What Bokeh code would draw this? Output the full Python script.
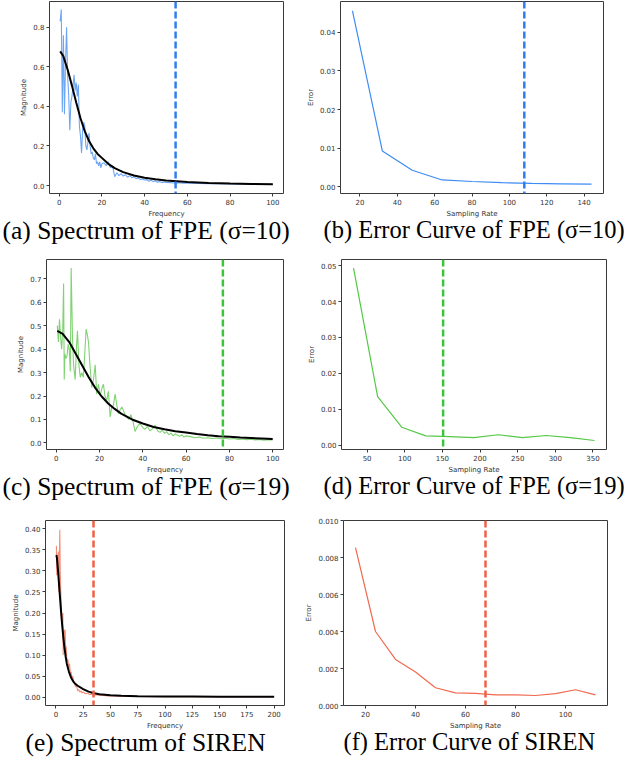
from bokeh.plotting import figure
from bokeh.layouts import column, row
from bokeh.models import Range1d, FixedTicker, Span, Title, PrintfTickFormatter
from bokeh.embed import file_html
from bokeh.resources import INLINE

# ---------------- data ----------------
# (a) Spectrum of FPE (sigma=10)
a_freq = [0.5, 1.0, 1.5, 2.0, 2.5, 3.0, 3.5, 4.0, 4.5, 5.0, 5.5, 6.0, 6.5, 7.0, 7.5, 8.0, 8.5, 9.0, 9.5, 10.0,
          10.5, 11.0, 11.5, 12.0, 12.5, 13.0, 13.5, 14.0, 14.5, 15.0, 15.5, 16.0, 16.5, 17.0, 17.5, 18.0, 18.5,
          19.0, 19.5, 20.0, 21, 22, 23, 24, 25, 26, 27, 28, 29, 30, 31, 32, 33, 34, 35, 36, 37, 38, 39, 40, 41,
          42, 43, 44, 45, 46, 47, 48, 49, 50, 52, 54, 56, 58, 60, 65, 70, 75, 80, 85, 90, 95, 100]
a_mag = [0.83, 0.89, 0.37, 0.76, 0.36, 0.62, 0.80, 0.55, 0.45, 0.28, 0.42, 0.45, 0.50, 0.56, 0.48, 0.52, 0.45,
         0.51, 0.30, 0.25, 0.165, 0.28, 0.32, 0.30, 0.20, 0.18, 0.22, 0.265, 0.20, 0.16, 0.17, 0.14, 0.13, 0.16,
         0.11, 0.12, 0.10, 0.12, 0.09, 0.11, 0.115, 0.10, 0.12, 0.09, 0.10, 0.045, 0.065, 0.05, 0.06, 0.048,
         0.055, 0.042, 0.05, 0.04, 0.045, 0.035, 0.038, 0.03, 0.033, 0.028, 0.03, 0.022, 0.027, 0.02, 0.024,
         0.017, 0.02, 0.015, 0.018, 0.016, 0.015, 0.013, 0.014, 0.012, 0.012, 0.011, 0.010, 0.009, 0.008, 0.008,
         0.007, 0.007, 0.006]
a_fit_freq = [0.5, 2, 4, 6, 8, 10, 12, 14, 16, 18, 20, 23, 26, 30, 35, 40, 45, 50, 60, 70, 80, 90, 100]
a_fit_mag = [0.678, 0.653, 0.585, 0.505, 0.42, 0.34, 0.275, 0.225, 0.188, 0.160, 0.140, 0.110, 0.088, 0.068,
             0.051, 0.040, 0.032, 0.026, 0.018, 0.013, 0.010, 0.008, 0.007]
a_cut = 54.5

# (b) Error curve of FPE (sigma=10)
b_rate = [16, 32, 48, 64, 80, 96, 112, 128, 144]
b_err = [0.0455, 0.0093, 0.0043, 0.0018, 0.0014, 0.0011, 0.0009, 0.0008, 0.0007]
b_cut = 108

# (c) Spectrum of FPE (sigma=19)
c_freq = [0.5, 1, 1.5, 2, 2.5, 3, 3.4, 3.7, 4, 4.5, 5, 5.5, 6, 6.5, 6.9, 7.5, 8, 8.75, 9.3, 9.8, 10.5, 11.1,
          11.8, 12.5, 13, 13.8, 14.4, 14.9, 15.6, 16.4, 17.2, 18, 18.7, 19.5, 20.3, 21, 21.8, 22.5, 23.3, 24.1,
          24.9, 25.6, 26.4, 27.2, 28, 28.7, 29.5, 30.3, 31, 31.8, 32.6, 33.5, 34.5, 35.5, 36.4, 37.5, 38.7, 40,
          41, 42, 43.3, 44.5, 45.6, 47, 48, 49, 50, 51, 52, 53, 54, 55, 56, 57, 58, 59, 60, 62, 64, 66, 68, 70,
          72, 74, 76, 78, 80, 82, 84, 86, 88, 90, 92, 94, 96, 98, 100]
c_mag = [0.50, 0.43, 0.527, 0.45, 0.40, 0.48, 0.68, 0.27, 0.38, 0.36, 0.37, 0.42, 0.40, 0.305, 0.746, 0.45,
         0.333, 0.27, 0.40, 0.478, 0.33, 0.28, 0.30, 0.28, 0.35, 0.485, 0.46, 0.43, 0.33, 0.236, 0.27, 0.333,
         0.208, 0.25, 0.20, 0.23, 0.25, 0.20, 0.18, 0.22, 0.111, 0.15, 0.16, 0.208, 0.16, 0.125, 0.14, 0.153,
         0.14, 0.12, 0.111, 0.10, 0.12, 0.09, 0.049, 0.07, 0.083, 0.065, 0.058, 0.07, 0.052, 0.06, 0.075, 0.05,
         0.045, 0.055, 0.04, 0.048, 0.035, 0.042, 0.03, 0.038, 0.033, 0.028, 0.035, 0.025, 0.03, 0.027, 0.022,
         0.025, 0.02, 0.022, 0.019, 0.021, 0.018, 0.02, 0.017, 0.019, 0.015, 0.017, 0.014, 0.016, 0.013, 0.015,
         0.012, 0.014, 0.013]
c_fit_freq = [0.5, 3, 6, 9, 12, 15, 18, 21, 24, 27, 30, 35, 40, 45, 50, 55, 60, 65, 70, 75, 80, 85, 90, 95, 100]
c_fit_mag = [0.478, 0.465, 0.43, 0.38, 0.33, 0.28, 0.235, 0.198, 0.168, 0.145, 0.125, 0.100, 0.083, 0.068,
             0.058, 0.050, 0.044, 0.038, 0.033, 0.029, 0.026, 0.023, 0.021, 0.019, 0.017]
c_cut = 77

# (d) Error curve of FPE (sigma=19)
d_rate = [32, 64, 96, 128, 160, 192, 224, 256, 288, 320, 352]
d_err = [0.0493, 0.0135, 0.0050, 0.0026, 0.0024, 0.0021, 0.0029, 0.0021, 0.0027, 0.0021, 0.0013]
d_cut = 151

# (e) Spectrum of SIREN
e_freq = [0.5, 0.8, 1.2, 1.6, 2.0, 2.4, 2.8, 3.2, 3.6, 4.0, 4.4, 4.8, 5.2, 5.6, 6.0, 6.4, 6.7, 7.1, 7.5, 8.0,
          8.5, 9.0, 9.5, 10, 10.5, 11, 11.5, 12, 12.5, 13, 13.5, 14, 14.5, 15, 15.5, 16, 17, 18, 19, 20, 21,
          22, 23, 24, 25, 27, 29, 31, 33, 35, 38, 41, 44, 47, 50, 55, 60, 70, 80, 100, 125, 150, 175, 200]
e_mag = [0.36, 0.29, 0.33, 0.30, 0.34, 0.346, 0.25, 0.33, 0.398, 0.30, 0.26, 0.22, 0.20, 0.19, 0.169, 0.20,
         0.10, 0.15, 0.16, 0.13, 0.16, 0.11, 0.12, 0.09, 0.085, 0.09, 0.075, 0.07, 0.08, 0.065, 0.055, 0.06,
         0.05, 0.044, 0.05, 0.04, 0.035, 0.025, 0.028, 0.015, 0.018, 0.012, 0.015, 0.010, 0.012, 0.008, 0.009,
         0.006, 0.007, 0.005, 0.005, 0.004, 0.004, 0.003, 0.003, 0.003, 0.002, 0.002, 0.0015, 0.001, 0.001,
         0.0008, 0.0008, 0.0008]
e_fit_freq = [0.5, 1, 2, 3, 4, 5, 6, 7, 8, 9, 10, 12, 14, 16, 18, 20, 25, 30, 35, 40, 50, 60, 75, 100, 125,
              150, 175, 200]
e_fit_mag = [0.338, 0.33, 0.30, 0.265, 0.23, 0.195, 0.165, 0.138, 0.115, 0.096, 0.080, 0.060, 0.046, 0.037,
             0.031, 0.027, 0.019, 0.013, 0.009, 0.007, 0.0045, 0.003, 0.002, 0.0015, 0.0012, 0.001, 0.001, 0.001]
e_cut = 34.5

# (f) Error curve of SIREN
f_rate = [16, 24, 32, 40, 48, 56, 64, 72, 80, 88, 96, 104, 112]
f_err = [0.00853, 0.0040, 0.00249, 0.00181, 0.00096, 0.00068, 0.00066, 0.00057, 0.00057, 0.00054, 0.00064,
         0.00085, 0.00057]
f_cut = 68

captions = ["(a) Spectrum of FPE (σ=10)", "(b) Error Curve of FPE (σ=10)",
            "(c) Spectrum of FPE (σ=19)", "(d) Error Curve of FPE (σ=19)",
            "(e) Spectrum of SIREN", "(f) Error Curve of SIREN"]

BLUE_N, BLUE_L, BLUE_D = "#5597f2", "#3d8cf4", "#2f7ef0"
GREEN_N, GREEN_L, GREEN_D = "#6acb5a", "#55c846", "#3dc43d"
RED_N, RED_L, RED_D = "#f37a62", "#f06a4f", "#ef6146"


def make_fig(w, h, bl, br, bt, bb, xr, yr, xticks, yticks, yfmt, xlabel, ylabel, caption, cap_off,
             cap_fs="25.5px", tick_fs="7px"):
    p = figure(width=w, height=h, output_backend="svg", toolbar_location=None,
               x_range=Range1d(*xr), y_range=Range1d(*yr),
               min_border_left=bl, min_border_right=br, min_border_top=bt, min_border_bottom=bb)
    p.background_fill_color = "white"
    p.border_fill_color = "white"
    p.outline_line_color = "#3a3a3a"
    p.outline_line_width = 1
    p.outline_line_alpha = 1
    p.grid.visible = False
    for ax, ticks, lab, fmt in ((p.xaxis, xticks, xlabel, "%d"), (p.yaxis, yticks, ylabel, yfmt)):
        ax.ticker = FixedTicker(ticks=ticks)
        ax.formatter = PrintfTickFormatter(format=fmt)
        ax.minor_tick_line_color = None
        ax.axis_line_color = None
        ax.major_tick_line_color = "#3a3a3a"
        ax.major_tick_in = 0
        ax.major_tick_out = 3
        ax.major_label_standoff = 2
        ax.major_label_text_font = "DejaVu Sans"
        ax.major_label_text_font_size = tick_fs
        ax.major_label_text_color = "#333333"
        ax.axis_label = lab
        ax.axis_label_standoff = 2
        ax.axis_label_text_font = "DejaVu Sans"
        ax.axis_label_text_font_size = "7px"
        ax.axis_label_text_font_style = "normal"
        ax.axis_label_text_color = "#333333"
    t = Title(text=caption, align="left", offset=cap_off, text_font="Liberation Serif",
              text_font_size=cap_fs, text_font_style="normal", text_color="black",
              vertical_align="top", standoff=-10)
    p.add_layout(t, "below")
    return p


LW, RW = 302, 322

pa = make_fig(LW, 246, 49, 19, 1, 53, (-4.5, 105), (-0.04, 0.93), [0, 20, 40, 60, 80, 100],
              [0, 0.2, 0.4, 0.6, 0.8], "%.1f", "Frequency", "Magnitude", captions[0], -47)
pa.line(a_freq, a_mag, line_color=BLUE_N, line_width=1.1, line_alpha=0.85)
pa.line(a_fit_freq, a_fit_mag, line_color="black", line_width=2)
pa.add_layout(Span(location=a_cut, dimension="height", line_color=BLUE_D, line_width=2.5, line_dash="7 3"))

pb = make_fig(RW, 246, 38, 21, 1, 51, (9.6, 150.4), (-0.0017, 0.0479), [20, 40, 60, 80, 100, 120, 140],
              [0, 0.01, 0.02, 0.03, 0.04], "%.2f", "Sampling Rate", "Error", captions[1], -17,
              cap_fs="24.5px")
pb.line(b_rate, b_err, line_color=BLUE_L, line_width=1.2)
pb.add_layout(Span(location=b_cut, dimension="height", line_color=BLUE_D, line_width=2.5, line_dash="7 3"))

pc = make_fig(LW, 256, 46, 19, 13, 53, (-4.5, 105), (-0.028, 0.782), [0, 20, 40, 60, 80, 100],
              [0, 0.1, 0.2, 0.3, 0.4, 0.5, 0.6, 0.7], "%.1f", "Frequency", "Magnitude", captions[2], -44)
pc.line(c_freq, c_mag, line_color=GREEN_N, line_width=1.1, line_alpha=0.85)
pc.line(c_fit_freq, c_fit_mag, line_color="black", line_width=2)
pc.add_layout(Span(location=c_cut, dimension="height", line_color=GREEN_D, line_width=2.5, line_dash="7 3"))

pd = make_fig(RW, 256, 39, 18, 13, 52, (16, 368), (-0.0012, 0.0517), [50, 100, 150, 200, 250, 300, 350],
              [0, 0.01, 0.02, 0.03, 0.04, 0.05], "%.2f", "Sampling Rate", "Error", captions[3], -18,
              cap_fs="24.5px")
pd.line(d_rate, d_err, line_color=GREEN_L, line_width=1.2)
pd.add_layout(Span(location=d_cut, dimension="height", line_color=GREEN_D, line_width=2.5, line_dash="7 3"))

pe = make_fig(LW, 256, 45, 18, 14, 53, (-9.5, 209.5), (-0.02, 0.42), [0, 25, 50, 75, 100, 125, 150, 175, 200],
              [0, 0.05, 0.1, 0.15, 0.2, 0.25, 0.3, 0.35, 0.4], "%.2f", "Frequency", "Magnitude", captions[4],
              -20)
pe.line(e_freq, e_mag, line_color=RED_N, line_width=1.1, line_alpha=0.85)
pe.line(e_fit_freq, e_fit_mag, line_color="black", line_width=2)
pe.add_layout(Span(location=e_cut, dimension="height", line_color=RED_D, line_width=2.5, line_dash="7 3"))

pf = make_fig(RW, 256, 41, 17, 18, 53, (11.2, 116.8), (0, 0.010), [20, 40, 60, 80, 100],
              [0, 0.002, 0.004, 0.006, 0.008, 0.010], "%.3f", "Sampling Rate", "Error", captions[5], 0,
              cap_fs="24.5px")
pf.line(f_rate, f_err, line_color=RED_L, line_width=1.2)
pf.add_layout(Span(location=f_cut, dimension="height", line_color=RED_D, line_width=2.5, line_dash="7 3"))

layout = column(row(pa, pb), row(pc, pd), row(pe, pf))
open("out.html", "w").write(file_html(layout, INLINE))
